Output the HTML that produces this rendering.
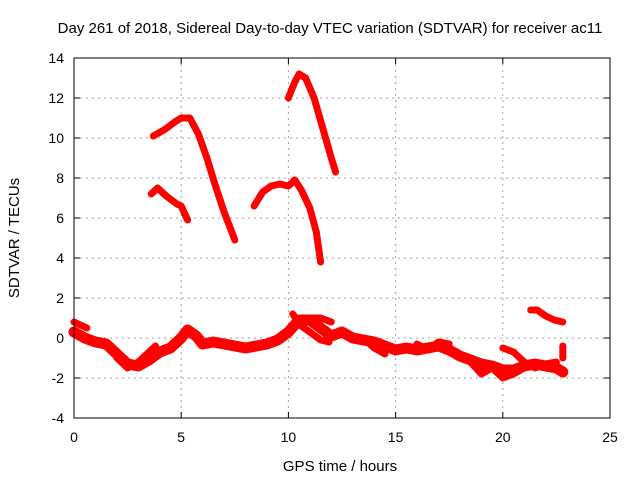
<!DOCTYPE html>
<html><head><meta charset="utf-8"><style>
body{margin:0;background:#fff}
svg{display:block;font-family:"Liberation Sans",sans-serif}
</style></head><body>
<svg id="chart" width="640" height="480" viewBox="0 0 640 480">
<rect width="640" height="480" fill="#fff"/>
<text x="330" y="33" font-size="15" text-anchor="middle">Day 261 of 2018, Sidereal Day-to-day VTEC variation (SDTVAR) for receiver ac11</text>
<text x="340" y="471" font-size="15" text-anchor="middle">GPS time / hours</text>
<text transform="translate(19,238) rotate(-90)" font-size="15" text-anchor="middle">SDTVAR / TECUs</text>
<g id="grid"></g>
<g id="ticks"></g>
<g id="series"></g>
<rect x="74" y="58" width="536" height="360" fill="none" stroke="#000" stroke-width="1"/>
</svg>
<script>
const xTicks=[0,5,10,15,20,25];
const yTicks=[-4,-2,0,2,4,6,8,10,12,14];
const arcA=[[3.7,10.1],[4.2,10.4],[4.7,10.8],[5.0,11.0],[5.4,11.0],[5.8,10.2],[6.2,9.0],[6.6,7.6],[7.0,6.3],[7.5,4.9]];
const arcB=[[3.6,7.2],[3.9,7.5],[4.3,7.1],[4.8,6.7],[5.0,6.6],[5.3,5.9]];
const arcC=[[10.0,12.0],[10.3,12.8],[10.5,13.2],[10.8,13.0],[11.2,12.0],[11.6,10.5],[12.0,9.0],[12.2,8.3]];
const arcD=[[8.4,6.6],[8.8,7.3],[9.2,7.6],[9.6,7.7],[10.0,7.6],[10.3,7.9],[10.6,7.4],[11.0,6.5],[11.3,5.3],[11.5,3.8]];
const arcE=[[21.3,1.4],[21.6,1.4],[22.0,1.1],[22.4,0.9],[22.8,0.8]];
const band=[[0,0.3],[0.5,0],[1,-0.2],[1.5,-0.3],[2,-0.8],[2.5,-1.3],[3,-1.4],[3.5,-1.1],[4,-0.7],[4.5,-0.5],[5,0],[5.3,0.4],[5.7,0.1],[6,-0.3],[6.5,-0.2],[7,-0.3],[7.5,-0.4],[8,-0.5],[8.5,-0.4],[9,-0.3],[9.5,-0.1],[10,0.3],[10.5,0.9],[11,0.9],[11.5,0.5],[12,0.1],[12.5,0.3],[13,0],[13.5,-0.1],[14,-0.2],[14.5,-0.4],[15,-0.6],[15.5,-0.5],[16,-0.6],[16.5,-0.5],[17,-0.4],[17.5,-0.6],[18,-0.9],[18.5,-1.1],[19,-1.3],[19.5,-1.4],[20,-1.6],[20.5,-1.6],[21,-1.4],[21.5,-1.3],[22,-1.4],[22.5,-1.5],[22.8,-1.7]];
const low1=[[0,0.8],[0.6,0.5]];
const low2=[[2,-1.0],[2.5,-1.5],[3,-1.2],[3.5,-0.7],[3.8,-0.4]];
const low3=[[10.2,1.2],[10.6,0.6],[11,0.3],[11.5,-0.1],[11.9,-0.2]];
const low4=[[11,1.0],[11.5,1.0],[12,0.8]];
const low5=[[13.5,0],[14,-0.5],[14.5,-0.8]];
const low6=[[16,-0.3],[16.5,-0.6],[17,-0.2],[17.5,-0.3]];
const low7=[[18.5,-1.2],[19,-1.8],[19.5,-1.5],[20,-2.0],[20.5,-1.8],[21,-1.5]];
const low8=[[20,-0.5],[20.5,-0.7],[21,-1.2],[21.5,-1.5],[22,-1.3],[22.5,-1.2]];
const low9=[[22.8,-0.4],[22.8,-1.0]];
const allSeries=[arcA,arcB,arcC,arcD,arcE,band,low1,low2,low3,low4,low5,low6,low7,low8,low9];
const X0=74,X1=610,Y0=418,Y1=58,XMAX=25,YMIN=-4,YMAX=14;
const xs=t=>X0+(X1-X0)*t/XMAX;
const ys=v=>Y0-(Y0-Y1)*(v-YMIN)/(YMAX-YMIN);
const NS='http://www.w3.org/2000/svg';
const grid=document.getElementById('grid'),ticks=document.getElementById('ticks'),ser=document.getElementById('series');
function mk(tag,at,p){const e=document.createElementNS(NS,tag);for(const k in at)e.setAttribute(k,at[k]);p.appendChild(e);return e;}
xTicks.forEach(t=>{
  const x=xs(t);
  if(t>0&&t<XMAX){const g=mk('line',{x1:x,x2:x,y1:Y1,y2:Y0,stroke:'#a0a0a0','stroke-dasharray':'2,4'},grid);
  
  }
  mk('line',{x1:x,x2:x,y1:Y0,y2:Y0-6,stroke:'#000'},grid);
  mk('line',{x1:x,x2:x,y1:Y1,y2:Y1+6,stroke:'#000'},grid);
  const tx=mk('text',{x:x,y:Y0+24,'font-size':14,'text-anchor':'middle'},ticks);
  
  
  tx.textContent=t;
});
yTicks.forEach(v=>{
  const y=ys(v);
  if(v>YMIN&&v<YMAX){const g=mk('line',{x1:X0,x2:X1,y1:y,y2:y,stroke:'#a0a0a0','stroke-dasharray':'2,4'},grid);
  
  }
  mk('line',{x1:X0,x2:X0+6,y1:y,y2:y,stroke:'#000'},grid);
  mk('line',{x1:X1,x2:X1-6,y1:y,y2:y,stroke:'#000'},grid);
  const tx=mk('text',{x:X0-10,y:y+5,'font-size':14,'text-anchor':'end'},ticks);
  
  
  tx.textContent=v;
});
allSeries.forEach((s,i)=>{
  const pts=s.map(p=>xs(p[0]).toFixed(1)+','+ys(p[1]).toFixed(1)).join(' ');
  const w=(s===band)?11:7;
  const pl=mk('polyline',{points:pts,fill:'none',stroke:'#ff0000','stroke-width':w,'stroke-linejoin':'round','stroke-linecap':'round'},ser);
  
  
});
</script>
</body></html>
